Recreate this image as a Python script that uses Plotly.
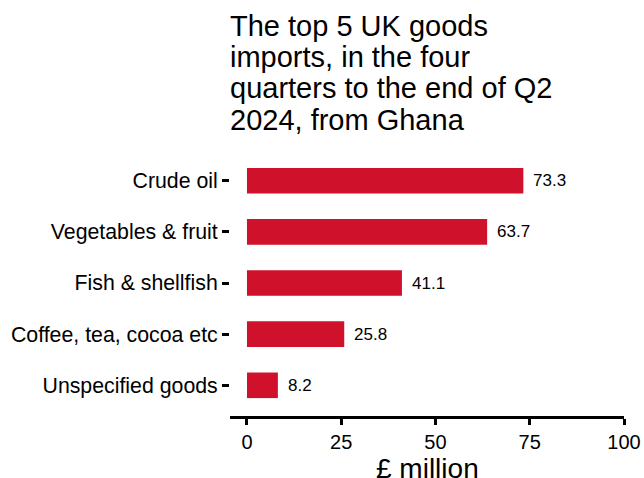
import plotly.graph_objects as go

categories = ["Crude oil", "Vegetables & fruit", "Fish & shellfish",
              "Coffee, tea, cocoa etc", "Unspecified goods"]
values = [73.3, 63.7, 41.1, 25.8, 8.2]
title_lines = ["The top 5 UK goods", "imports, in the four",
               "quarters to the end of Q2", "2024, from Ghana"]
x_ticks = [0, 25, 50, 75, 100]
x_title = "£ million"

FONT = "Liberation Sans, Arial, sans-serif"
RED = "#D0112B"

W, H = 644, 478
ML, MR, MT, MB = 230, 20, 150, 62
plot_h = H - MT - MB
bottom_px = H - MB


def py(pix):
    return (bottom_px - pix) / plot_h


fig = go.Figure()
fig.add_trace(go.Bar(
    x=values, y=categories, orientation="h",
    marker=dict(color=RED, line=dict(width=0)),
    width=0.5, hoverinfo="skip",
))

annotations = []
for c, v in zip(categories, values):
    annotations.append(dict(
        x=v, y=c, xref="x", yref="y", text=f"{v:.1f}", showarrow=False,
        xanchor="left", yanchor="middle", xshift=8,
        font=dict(family=FONT, size=17, color="black"),
    ))

baselines = [35, 66, 97, 129]
for line, b in zip(title_lines, baselines):
    annotations.append(dict(
        x=0, xref="paper", y=py(b - 9), yref="paper", text=line,
        showarrow=False, xanchor="left", yanchor="middle", xshift=-2,
        font=dict(family=FONT, size=29, color="black"),
    ))

annotations.append(dict(
    x=0.5, xref="paper", y=py(468), yref="paper", text=x_title,
    showarrow=False, xanchor="center", yanchor="middle",
    font=dict(family=FONT, size=28, color="black"),
))

fig.update_layout(
    width=W, height=H,
    margin=dict(l=ML, r=MR, t=MT, b=MB, pad=0, autoexpand=False),
    paper_bgcolor="white", plot_bgcolor="white",
    showlegend=False,
    font=dict(family=FONT, color="black"),
    annotations=annotations,
    xaxis=dict(
        range=[-4.5, 100], tickvals=x_ticks, ticktext=[str(t) for t in x_ticks],
        showgrid=False, zeroline=False, automargin=False,
        showline=True, linecolor="black", linewidth=3,
        ticks="outside", ticklen=6, tickwidth=2.5, tickcolor="black",
        tickfont=dict(family=FONT, size=20, color="black"),
        fixedrange=True,
    ),
    yaxis=dict(
        range=[4.6, -0.6], type="category", automargin=False,
        categoryorder="array", categoryarray=categories,
        showgrid=False, zeroline=False, showline=False,
        ticks="outside", ticklen=7, tickwidth=3, tickcolor="black",
        tickfont=dict(family=FONT, size=21.3, color="black"),
        fixedrange=True,
    ),
)

fig.write_html(
    "out.html",
    config={"displayModeBar": False},
    post_script="document.body.style.margin='0';document.body.style.padding='0';",
)
